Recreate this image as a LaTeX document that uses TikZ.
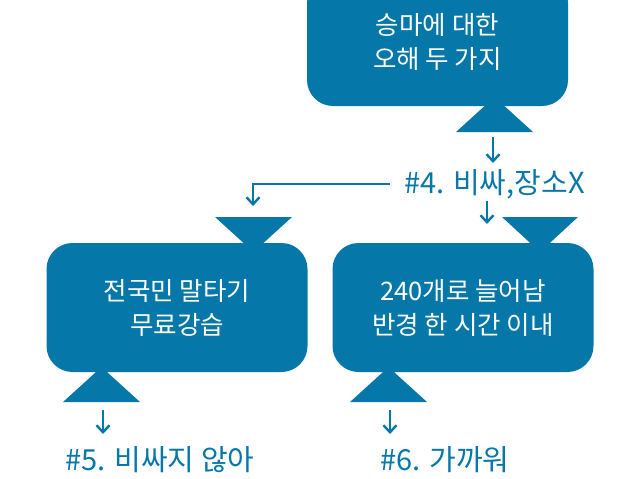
\documentclass[tikz,border=0pt]{standalone}
\usepackage{fontspec}
\setmainfont{Noto Sans CJK KR}
\usetikzlibrary{arrows.meta}
\definecolor{horseblue}{RGB}{5,119,168}

\begin{document}
\begin{tikzpicture}[x=1pt, y=-1pt,
    box/.style={fill=horseblue, rounded corners=26pt, minimum width=261pt, minimum height=129pt,
      text=white, align=center, inner sep=0pt, font=\fontsize{25.5}{34}\selectfont},
    tag/.style={text=horseblue, inner sep=0pt, font=\fontsize{29}{32}\selectfont},
    arr/.style={draw=horseblue, line width=2.4pt, -{Straight Barb[length=7pt, width=13pt]}}]
  \useasboundingbox (0,0) rectangle (638,479);
  \clip (0,0) rectangle (638,479);

  % boxes
  \node[box] (myth) at (437.5, 41.5) {승마에 대한\\오해 두 가지};
  \node[box] (lesson) at (177, 307.5) {전국민 말타기\\무료강습};
  \node[box] (count) at (463, 307.5) {240개로 늘어남\\반경 한 시간 이내};

  % funnels
  \fill[horseblue] (456,132) -- (533,132) -- (494.5,97) -- cycle;
  \fill[horseblue] (215,217) -- (292,217) -- (253.5,252) -- cycle;
  \fill[horseblue] (502,217) -- (578,217) -- (540,252) -- cycle;
  \fill[horseblue] (63,402) -- (140,402) -- (101.5,367) -- cycle;
  \fill[horseblue] (350,402) -- (427,402) -- (388.5,367) -- cycle;

  % labels
  \node[tag] (cost) at (494.5, 184) {\#4. 비싸,장소X};
  \node[tag] (cheap) at (160, 460) {\#5. 비싸지 않아};
  \node[tag] (close) at (445, 460) {\#6. 가까워};

  \coordinate (mythfoot) at (493,137);
  \coordinate (costtop) at (493,163);
  \coordinate (lessontop) at (253,206);
  \coordinate (counttop) at (487,224);
  \coordinate (lessonfoot) at (103,410);
  \coordinate (cheaptop) at (103,434);
  \coordinate (countfoot) at (390,410);
  \coordinate (closetop) at (390,434);

  \draw[arr] (mythfoot) -- (costtop);
  \draw[arr, shorten <=14pt] (cost.west) -| (lessontop);
  \draw[arr, shorten <=2pt] (cost.south -| counttop) -- (counttop);
  \draw[arr] (lessonfoot) -- (cheaptop);
  \draw[arr] (countfoot) -- (closetop);
\end{tikzpicture}
\end{document}
